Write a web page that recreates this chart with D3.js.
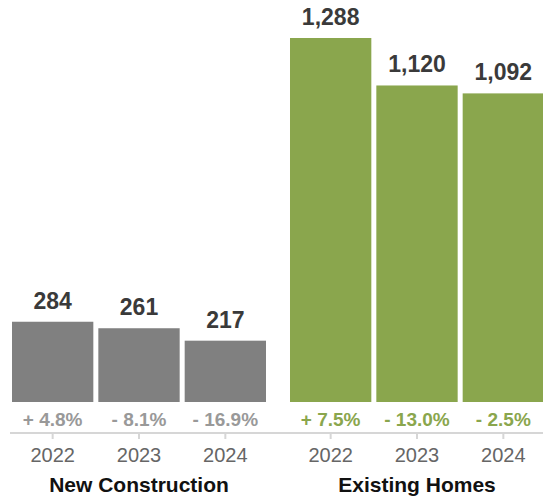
<!DOCTYPE html>
<html>
<head>
<meta charset="utf-8">
<script src="https://cdn.jsdelivr.net/npm/d3@7"></script>
<style>
  html, body { margin: 0; padding: 0; background: #fff; }
  svg { display: block; font-family: "Liberation Sans", Arial, Helvetica, sans-serif; }
</style>
</head>
<body>
<svg id="chart" width="543" height="499"></svg>
<script>
// Home sales by type and year
const groups = ["New Construction", "Existing Homes"];
const years = ["2022", "2023", "2024"];
const newConstruction = [284, 261, 217];
const existingHomes = [1288, 1120, 1092];
const newConstructionChange = [4.8, -8.1, -16.9];
const existingHomesChange = [7.5, -13.0, -2.5];

const series = [
  { name: groups[0], values: newConstruction, change: newConstructionChange, fill: "#808080", text: "#999999" },
  { name: groups[1], values: existingHomes, change: existingHomesChange, fill: "#8aa64d", text: "#8aa64d" }
];

const W = 543, H = 499;
const baseY = 402;      // bottom of bars
const axisY = 433;      // baseline rule

const svg = d3.select("#chart");

const x0 = d3.scaleBand().domain(groups).range([12, 544]).paddingInner(0.0863).paddingOuter(0);
const x1 = d3.scaleBand().domain(years).range([0, x0.bandwidth()]).paddingInner(0.058).paddingOuter(0);
const y = d3.scaleLinear().domain([0, d3.max(existingHomes)]).range([baseY, 38]);

const fmtVal = d3.format(",");
const fmtChange = v => (v >= 0 ? "+ " : "- ") + Math.abs(v).toFixed(1) + "%";

// full-width baseline
svg.append("line")
  .attr("x1", 10).attr("x2", W)
  .attr("y1", axisY).attr("y2", axisY)
  .attr("stroke", "#d6d6d6").attr("stroke-width", 2);

series.forEach(s => {
  const g = svg.append("g").attr("transform", `translate(${x0(s.name)},0)`);
  const rows = years.map((yr, i) => ({ yr, v: s.values[i], c: s.change[i] }));

  g.selectAll("rect").data(rows).join("rect")
    .attr("x", d => x1(d.yr))
    .attr("width", x1.bandwidth())
    .attr("y", d => y(d.v))
    .attr("height", d => baseY - y(d.v))
    .attr("fill", s.fill);

  g.selectAll("text.val").data(rows).join("text")
    .attr("class", "val")
    .attr("x", d => x1(d.yr) + x1.bandwidth() / 2)
    .attr("y", d => y(d.v) - 13)
    .attr("text-anchor", "middle")
    .attr("font-size", 23).attr("font-weight", "bold")
    .attr("fill", "#3a3a3a")
    .text(d => fmtVal(d.v));

  g.selectAll("text.chg").data(rows).join("text")
    .attr("class", "chg")
    .attr("x", d => x1(d.yr) + x1.bandwidth() / 2)
    .attr("y", 426)
    .attr("text-anchor", "middle")
    .attr("font-size", 19).attr("font-weight", "bold")
    .attr("fill", s.text)
    .text(d => fmtChange(d.c));

  const axis = d3.axisBottom(x1).tickSize(6).tickSizeOuter(0).tickPadding(9);
  const ag = g.append("g").attr("transform", `translate(0,${axisY})`).call(axis);
  ag.select(".domain").remove();
  ag.selectAll(".tick line").attr("stroke", "#d6d6d6").attr("stroke-width", 2);
  ag.selectAll(".tick text")
    .attr("font-size", 20).attr("fill", "#666")
    .attr("font-family", "\"Liberation Sans\", Arial, sans-serif");

  g.append("text")
    .attr("x", x0.bandwidth() / 2)
    .attr("y", 492)
    .attr("text-anchor", "middle")
    .attr("font-size", 21).attr("font-weight", "bold")
    .attr("fill", "#111")
    .text(s.name);
});
</script>
</body>
</html>
